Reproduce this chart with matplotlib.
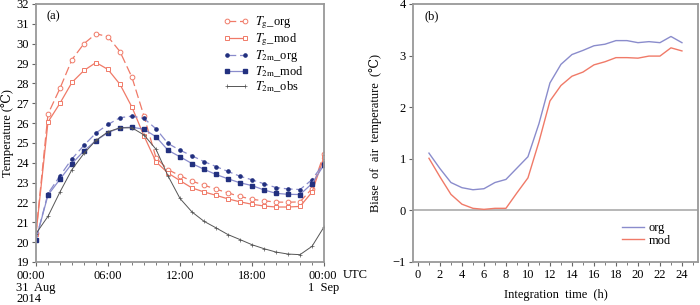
import matplotlib
matplotlib.use("Agg")
import matplotlib.pyplot as plt

plt.rcParams['font.family'] = ['Liberation Serif', 'DejaVu Serif']
plt.rcParams['mathtext.fontset'] = 'stix'
plt.rcParams['font.size'] = 9

# (a) harorat qatorlari, soat 0..24
hours = list(range(25))
tg_org = [20.45, 26.45, 27.75, 29.2, 30.0, 30.5, 30.35, 29.6, 28.3, 26.35, 24.25, 23.65, 23.35,
          23.07, 22.87, 22.67, 22.48, 22.3, 22.16, 22.08, 22.02, 22.01, 22.03, 22.7, 24.45]
tg_mod = [20.4, 26.05, 27.0, 28.05, 28.65, 29.05, 28.7, 27.95, 26.8, 25.35, 24.05, 23.48, 23.1,
          22.73, 22.53, 22.36, 22.18, 22.03, 21.91, 21.82, 21.77, 21.77, 21.8, 22.52, 24.3]
t2m_org = [20.13, 22.45, 23.34, 24.2, 24.88, 25.5, 25.93, 26.27, 26.35, 26.23, 25.71, 24.97, 24.63,
           24.35, 24.06, 23.81, 23.56, 23.32, 23.14, 22.94, 22.75, 22.68, 22.65, 23.15, 24.0]
t2m_mod = [20.13, 22.37, 23.17, 23.96, 24.6, 25.12, 25.52, 25.76, 25.79, 25.69, 25.31, 24.63, 24.3,
           23.96, 23.67, 23.41, 23.19, 22.99, 22.85, 22.63, 22.46, 22.41, 22.4, 22.95, 23.9]
t2m_obs = [20.43, 21.3, 22.53, 23.66, 24.47, 25.13, 25.56, 25.76, 25.76, 25.4, 24.68, 23.34, 22.2,
           21.52, 21.05, 20.72, 20.38, 20.13, 19.87, 19.67, 19.5, 19.4, 19.37, 19.79, 20.77]
xtick_labels = ['00:00\n31  Aug\n2014', '06:00', '12:00', '18:00', '00:00\n1  Sep']

# (b) xatolik, integratsiya vaqti 1..24 soat
steps = list(range(1, 25))
bias_org = [1.11, 0.81, 0.54, 0.44, 0.40, 0.42, 0.54, 0.60, 0.82, 1.04, 1.68, 2.47, 2.83, 3.02,
            3.10, 3.19, 3.22, 3.29, 3.29, 3.25, 3.27, 3.25, 3.37, 3.25]
bias_mod = [1.01, 0.65, 0.31, 0.12, 0.04, 0.02, 0.04, 0.04, 0.34, 0.63, 1.33, 2.12, 2.42, 2.60,
            2.68, 2.82, 2.88, 2.96, 2.96, 2.95, 2.99, 2.99, 3.15, 3.09]

red = '#f07a68'
navy = '#22307f'
blu = '#8a8ccc'
spine_c = '#999999'

fig = plt.figure(figsize=(7, 3.05), dpi=100)
ax1 = fig.add_axes([0.0514, 0.141, 0.4115, 0.846])
ax2 = fig.add_axes([0.590, 0.141, 0.407, 0.846])

ax1.plot(hours, tg_org, color=red, lw=0.9, dashes=(7, 3), marker='o', ms=3.4, mfc='white', mec=red,
         mew=0.7, label=r'$T_{\rm g}$_org')
ax1.plot(hours, tg_mod, color=red, lw=0.9, marker='s', ms=3.2, mfc='white', mec=red, mew=0.7,
         label=r'$T_{\rm g}$_mod')
ax1.plot(hours, t2m_org, color=blu, lw=0.9, dashes=(7, 3), marker='o', ms=2.3, mfc=navy, mec=navy,
         label=r'$T_{\rm 2m}$_org')
ax1.plot(hours, t2m_mod, color=blu, lw=0.9, marker='s', ms=2.5, mfc=navy, mec=navy,
         label=r'$T_{\rm 2m}$_mod')
ax1.plot(hours, t2m_obs, color='#555555', lw=0.7, marker='+', ms=2.6, mew=0.5,
         label=r'$T_{\rm 2m}$_obs')

ax1.set_xlim(0, 24)
ax1.set_ylim(19, 32)
ax1.set_yticks(range(19, 33))
ax1.set_xticks([0, 6, 12, 18, 24])
ax1.set_xticks(hours, minor=True)
ax1.set_xticklabels(xtick_labels, ha='center', va='top', multialignment='left', linespacing=0.95)
ax1.set_ylabel('Temperature (℃)', labelpad=2)
ax1.text(0.035, 0.975, '(a)', transform=ax1.transAxes, va='top', ha='left')
ax1.text(1.065, -0.027, 'UTC', transform=ax1.transAxes, va='top', ha='left')
ax1.legend(loc='upper right', bbox_to_anchor=(0.93, 0.96), frameon=False, handlelength=2.0,
           numpoints=2, handletextpad=0.5, labelspacing=0.02, fontsize=9,
           borderaxespad=0, borderpad=0)

ax2.plot(steps, bias_org, color=blu, lw=1, label='org')
ax2.plot(steps, bias_mod, color=red, lw=1, label='mod')
ax2.axhline(0, color='#aaaaaa', lw=1.2, zorder=0)
ax2.set_xlim(-0.45, 25.45)
ax2.set_ylim(-1, 4)
ax2.set_xticks(range(0, 25, 2))
ax2.set_xticks(range(0, 26), minor=True)
ax2.set_yticks(range(-1, 5))
ax2.set_yticklabels(['−1', '0', '1', '2', '3', '4'])
ax2.set_xlabel('Integration  time  (h)', labelpad=6)
ax2.set_ylabel('Biase  of  air  temperature  (℃)', labelpad=8)
ax2.text(0.04, 0.975, '(b)', transform=ax2.transAxes, va='top', ha='left')
ax2.legend(loc='lower right', bbox_to_anchor=(0.905, 0.06), frameon=False, handlelength=1.7,
           handletextpad=0.4, labelspacing=0.05, fontsize=9, borderaxespad=0, borderpad=0)

for ax in (ax1, ax2):
    for s in ax.spines.values():
        s.set_color(spine_c)
        s.set_linewidth(1.3)
    ax.tick_params(which='major', direction='out', length=3, width=0.8, color='#666666', pad=2)
    ax.tick_params(which='minor', direction='out', length=2, width=0.6, color='#666666')
ax1.tick_params(axis='x', which='major', pad=3)

fig.savefig('out.png', dpi=100)
